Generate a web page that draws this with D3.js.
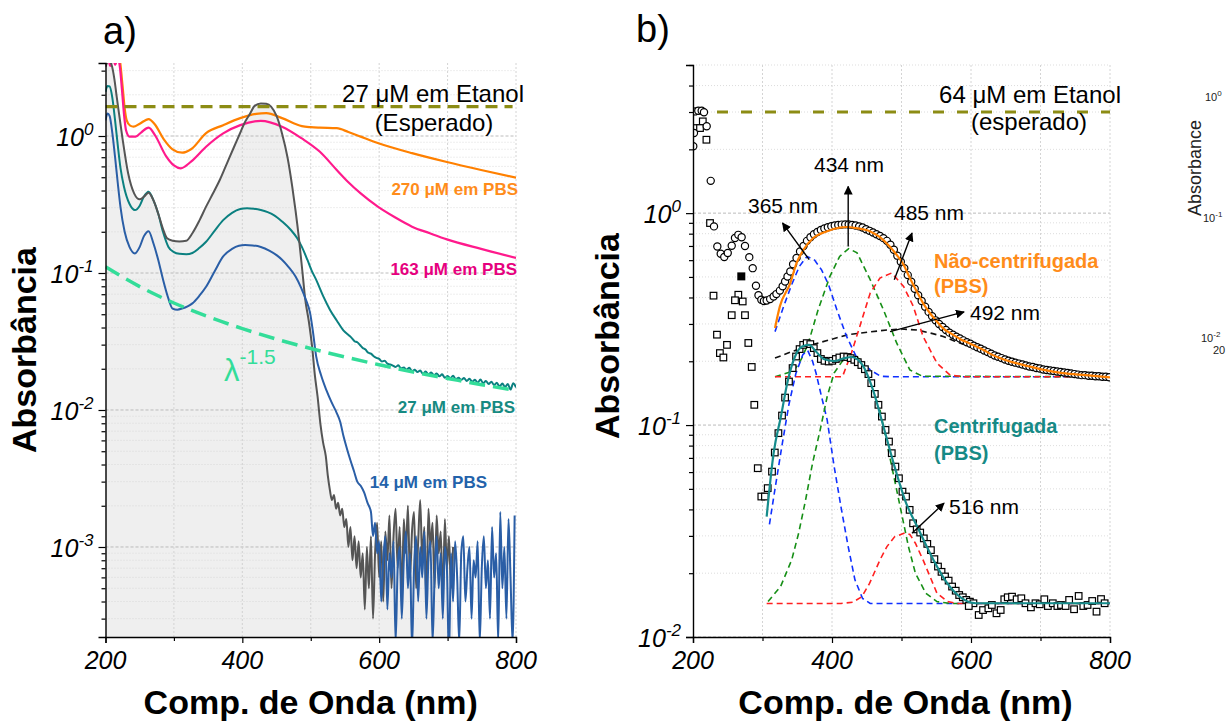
<!DOCTYPE html>
<html><head><meta charset="utf-8">
<script src="https://cdn.jsdelivr.net/npm/d3@7"></script>
<style>body{margin:0;background:#fff}svg{display:block}text{font-family:"Liberation Sans",Arial,Helvetica,sans-serif}</style>
</head><body><svg id="c" width="1228" height="724"></svg>
<script>
// ---------------- DATA (nm, absorbance) ----------------
// Panel a
const aOrange = [[200,6],[212,5],[218,4.2],[221,3.6],[225,2.3],[228,1.6],[231,1.3],[236,1.19],[241,1.17],[250,1.23],[263,1.33],[272,1.22],[285,0.95],[298,0.80],[312,0.755],[325,0.80],[347,1.05],[372,1.20],[397,1.35],[420,1.45],[435,1.47],[458,1.35],[487,1.18],[500,1.16],[513,1.15],[538,1.14],[555,1.07],[573,0.99],[598,0.89],[648,0.75],[699,0.646],[749,0.565],[800,0.496]];
const aPink = [[200,3.3],[204,3.6],[207,3.25],[211,3.8],[214,3.3],[218,3.7],[221,3.2],[224,2.2],[227,1.45],[230,1.1],[235,0.99],[244,0.99],[252,1.06],[263,1.15],[273,1.0],[288,0.72],[300,0.61],[310,0.581],[325,0.65],[347,0.835],[372,1.045],[397,1.20],[427,1.29],[458,1.17],[487,0.96],[513,0.77],[538,0.565],[555,0.46],[573,0.381],[598,0.305],[623,0.255],[648,0.218],[674,0.195],[699,0.176],[749,0.150],[800,0.129]];
const aTealMain = [[200,2.1],[203,2.32],[206,2.3],[210,1.9],[214,1.3],[218,0.85],[222,0.58],[227,0.426],[235,0.32],[243,0.288],[250,0.31],[256,0.36],[263,0.392],[270,0.34],[277,0.272],[284,0.2],[292,0.155],[300,0.142],[308,0.138],[318,0.137],[327,0.14],[337,0.152],[347,0.169],[360,0.205],[372,0.243],[385,0.275],[397,0.293],[407,0.297],[417,0.294],[427,0.288],[437,0.278],[446,0.265],[458,0.238],[471,0.206],[480,0.18],[487,0.155],[495,0.125],[501,0.105],[508,0.089],[518,0.068],[528,0.054],[538,0.045],[548,0.038],[556,0.035]];
const aTealTail = [0.0335,0.0318,0.0312,0.0298,0.0284,0.0276,0.0262,0.0258,0.0247,0.0240,0.0236,0.0226,0.0229,0.0218,0.0215,0.0211,0.0206,0.0212,0.0201,0.0204,0.0197,0.0203,0.0192,0.0197,0.0189,0.0194,0.0184,0.0191,0.0182,0.0188,0.0179,0.0185,0.0176,0.0182,0.0172,0.0177,0.0170,0.0178,0.0168,0.0172,0.0166,0.0171,0.0163,0.0169,0.0161,0.0166,0.0158,0.0167,0.0157,0.0163,0.0155,0.0161,0.0152,0.0158,0.0148,0.0156,0.0147,0.0155,0.0141,0.0157,0.0146]; // 560..800 step 4
const aBlueMain = [[200,1.3],[203,1.46],[206,1.4],[210,1.05],[214,0.7],[218,0.45],[222,0.3],[228,0.2],[235,0.155],[243,0.139],[250,0.155],[256,0.185],[263,0.202],[270,0.165],[277,0.125],[284,0.09],[292,0.065],[298,0.055],[305,0.054],[312,0.055],[320,0.057],[327,0.060],[337,0.068],[347,0.0793],[360,0.104],[372,0.132],[385,0.15],[395,0.158],[404,0.160],[415,0.159],[427,0.155],[440,0.145],[450,0.135],[458,0.125],[468,0.11],[478,0.094],[486,0.078],[493,0.0636],[499,0.0512],[503,0.038],[508,0.0245],[515,0.018],[523,0.0139],[530,0.0115],[538,0.0095],[543,0.0082],[548,0.0064],[553,0.0052],[558,0.0043],[563,0.0036],[568,0.003],[573,0.0028],[578,0.0025],[583,0.0021],[588,0.0018]];
const aBlueTail = [0.0012,0.0015,0.0009,0.0011,0.0004,0.0008,0.0012,0.00035,0.0009,0.0006,0.0011,0.0002,0.0007,0.0010,0.0003,0.0008,0.0013,0.0005,0.0009,0.00018,0.0007,0.0012,0.0004,0.0010,0.0006,0.0013,0.0003,0.0008,0.0011,0.0002,0.0006,0.0012,0.0005,0.0009,0.0003,0.0010,0.0007,0.00015,0.0009,0.0004,0.0011,0.0006,0.0002,0.0009,0.0012,0.0004,0.0007,0.0010,0.0003,0.0008,0.0006,0.0011,0.0002,0.0007,0.0012,0.0005,0.0008,0.0003,0.0014,0.0006,0.0009,0.0002,0.0018,0.0005,0.0010,0.0003,0.0016,0.0006,0.0002,0.0017]; // 591..798 step 3
const aGreyMain = [[200,3.2],[203,3.45],[206,3.5],[209,3.3],[213,2.6],[216,2.0],[219,1.55],[225,0.95],[233,0.537],[242,0.38],[250,0.345],[256,0.36],[263,0.385],[270,0.34],[277,0.272],[284,0.21],[290,0.179],[298,0.172],[308,0.170],[318,0.172],[327,0.195],[337,0.24],[347,0.305],[357,0.38],[367,0.477],[378,0.64],[388,0.835],[396,1.03],[403,1.24],[411,1.45],[418,1.66],[427,1.73],[435,1.72],[442,1.64],[450,1.4],[458,1.045],[466,0.7],[473,0.426],[478,0.28],[483,0.174],[488,0.10],[492,0.064],[497,0.045],[502,0.029],[506,0.018],[510,0.0125],[514,0.008],[518,0.0058],[522,0.0046]];
const aGreyTail = [0.0033,0.0026,0.0022,0.0024,0.0019,0.0021,0.0017,0.0019,0.0014,0.0016,0.0010,0.0014,0.0008,0.0012,0.0007,0.0011,0.0006,0.0009,0.00035,0.0010,0.0005,0.0012,0.0003,0.0009,0.0015,0.0006,0.0011,0.0004,0.0013,0.0008,0.0017,0.0005,0.0012,0.0019,0.0007,0.0014,0.0004,0.0016,0.0009,0.0020,0.0006,0.0013,0.0018,0.0005,0.0011,0.0022,0.0008,0.0014,0.0004,0.0019,0.0010,0.0015,0.0005,0.0017,0.0009,0.0013,0.0004,0.0016,0.0007,0.0012,0.0005,0.0010]; // 525..708 step 3
const aLambda = [[200,0.111],[250,0.0795],[300,0.0604],[350,0.048],[400,0.0393],[450,0.0329],[500,0.0281],[550,0.0244],[600,0.0214],[650,0.0189],[700,0.0170],[750,0.0153],[800,0.0139]];
const aEthanolExpected = [[200,1.64],[795,1.64]];

// Panel b
const bEthanolExpected = [[200,3.0],[800,3.0]];
const bCircles = [[200.4,2.07],[201.4,2.39],[202.9,3.02],[207.6,3.04],[212.5,3.04],[215.8,2.99],[219.7,2.57],[225.5,1.42],[230.2,0.866],[235,0.696],[239.9,0.643],[245,0.621],[250,0.648],[255.7,0.702],[260.4,0.763],[265.2,0.79],[270,0.77],[274.8,0.70],[281,0.62],[285.9,0.55],[290.6,0.454],[294.2,0.41],[298.3,0.39],[302,0.385],[306,0.387],[311,0.393],[316,0.404],[320,0.415],[325,0.431],[329,0.452],[332.5,0.476],[336,0.502],[340,0.53],[344,0.574],[349,0.615],[354,0.66],[359,0.70],[364,0.74],[369,0.77],[374,0.795],[379,0.815],[384,0.832],[389,0.846],[394,0.858],[399,0.867],[404,0.874],[409,0.879],[414,0.883],[419,0.885],[424,0.884],[429,0.88],[434,0.874],[439,0.866],[444,0.855],[449,0.84],[454,0.825],[459,0.81],[464,0.795],[469,0.78],[474,0.762],[479,0.74],[484,0.71],[489,0.672],[494,0.63],[499,0.59],[504,0.55],[509,0.51],[514,0.475],[519,0.44],[524,0.41],[529,0.385],[534,0.362],[539,0.342],[544,0.326],[549,0.312],[554,0.3],[559,0.29],[564,0.281],[569,0.273],[574,0.267],[579,0.261],[584,0.256],[589,0.251],[594,0.246],[599,0.242],[604,0.237],[609,0.233],[614,0.229],[619,0.225],[624,0.221],[629,0.217],[634,0.213],[639,0.210],[644,0.207],[649,0.204],[654,0.201],[659,0.199],[664,0.197],[669,0.195],[674,0.193],[679,0.191],[684,0.189],[689,0.188],[694,0.186],[699,0.185],[704,0.183],[709,0.182],[714,0.181],[719,0.180],[724,0.179],[729,0.178],[734,0.177],[739,0.176],[744,0.175],[749,0.174],[754,0.173],[759,0.172],[764,0.172],[769,0.171],[774,0.171],[779,0.170],[784,0.170],[789,0.169],[794,0.169],[799,0.168]];
const bSquares = [[214.1,2.71],[203.9,2.52],[210.1,2.52],[219.3,2.22],[224.5,0.898],[229.5,0.408],[234.5,0.267],[255.7,0.33],[274.8,0.33],[271.5,0.383],[265.2,0.412],[260.4,0.388],[248.9,0.239],[279.6,0.244],[238.7,0.2186],[243.7,0.2084],[284.5,0.188],[288.2,0.1246],[293.2,0.0626],[298.3,0.046],[303.5,0.046],[307.5,0.0504],[313.7,0.0603],[317.7,0.0742],[322.9,0.0916],[328.1,0.1109],[332.5,0.1348],[338.1,0.1605],[343.3,0.1857],[348.3,0.2106],[353.4,0.2283],[358.6,0.239],[363.6,0.2436],[368.8,0.241],[373.8,0.2307],[379,0.2186],[384,0.205],[389.2,0.201],[395.3,0.1995],[400.4,0.201],[405.5,0.205],[410.6,0.2084],[416.7,0.2106],[421.9,0.2095],[426.9,0.207],[432.1,0.2032],[437.1,0.198],[442.2,0.192],[447.3,0.1835],[452.4,0.174],[456.5,0.1577],[461.6,0.1403],[466.8,0.1246],[471.8,0.1097],[477,0.0949],[482,0.0836],[486,0.0737],[491.2,0.0637],[496.3,0.0561],[501.4,0.0485],[506.5,0.046],[511.7,0.0398],[516.7,0.0344],[521.9,0.0322],[526.9,0.0311],[532.1,0.0292],[537.1,0.0275],[542.3,0.0257],[547.3,0.0233],[552.5,0.0215],[557.6,0.0203],[562.6,0.0193],[567.8,0.01845],[572.8,0.0173],[578,0.01654],[583,0.01578],[588.2,0.0154],[593.2,0.01496],[598.4,0.01468],[603.5,0.01443],[596.8,0.0140],[611.1,0.0127],[617.3,0.0134],[625,0.01366],[630,0.01416],[636.7,0.01294],[642.7,0.01341],[647.9,0.01507],[652.9,0.0154],[659,0.0155],[665.7,0.01507],[672.4,0.01523],[678.4,0.01443],[686.2,0.0138],[692.8,0.01443],[698.9,0.01427],[705.5,0.01507],[710.6,0.0140],[717.7,0.01443],[724.3,0.0140],[729.5,0.01416],[736.1,0.0140],[741.2,0.01496],[748.3,0.01352],[754.9,0.01562],[761.6,0.0140],[767.7,0.01416],[774.4,0.01479],[780.6,0.01317],[787.1,0.0151],[792.3,0.01443]];
const bFilledSquare = [[269.5,0.503]];
const bFitOrange = [[318,0.287],[325,0.363],[340,0.468],[349,0.581],[359,0.672],[373,0.763],[392,0.82],[411,0.855],[421,0.86],[435,0.85],[455,0.82],[469,0.77],[483,0.696],[493,0.636],[503,0.571],[512,0.494],[522,0.427],[531,0.376],[541,0.337],[551,0.308],[560,0.286],[570,0.272],[584,0.255],[599,0.242],[618,0.226],[630,0.215],[655,0.200],[681,0.190],[705,0.182],[732,0.176],[765,0.172],[800,0.168]];
const bFitTeal = [[306,0.037],[316,0.0737],[326.5,0.1097],[336.7,0.1634],[346.8,0.2106],[357,0.2349],[367,0.239],[377,0.2223],[388,0.205],[403,0.2005],[418,0.207],[428,0.2095],[444,0.192],[459,0.1466],[474,0.0984],[490,0.0637],[505,0.0443],[525,0.032],[546,0.0231],[566,0.0179],[587,0.0152],[607,0.01443],[800,0.01443]];
const bUpBlue = [[318,0.276],[330,0.36],[342,0.46],[353,0.56],[364,0.625],[375,0.60],[385,0.54],[395,0.46],[407,0.35],[421,0.262],[435,0.21],[455,0.182],[470,0.170],[485,0.169],[800,0.169]];
const bUpGreen = [[318,0.169],[345,0.18],[356,0.205],[366,0.244],[380,0.35],[397,0.503],[411,0.625],[424,0.68],[436,0.65],[455,0.485],[474,0.35],[493,0.244],[512,0.182],[530,0.170],[800,0.169]];
const bUpRed = [[318,0.169],[415,0.169],[428,0.219],[440,0.292],[455,0.42],[469,0.494],[486,0.522],[503,0.451],[517,0.363],[531,0.262],[551,0.196],[570,0.172],[590,0.169],[800,0.169]];
const bUpBlack = [[318,0.207],[342,0.222],[372,0.24],[397,0.2525],[423,0.267],[454,0.275],[479,0.281],[500,0.284],[522,0.281],[545,0.27],[560,0.262],[575,0.25],[590,0.24]];
const bLoBlue = [[310,0.034],[318,0.05],[328,0.08],[338,0.125],[348,0.175],[358,0.215],[365,0.225],[372,0.20],[377,0.176],[385,0.136],[393,0.106],[403,0.064],[413,0.041],[423,0.027],[433,0.0186],[444,0.0152],[455,0.0144],[800,0.0144]];
const bLoGreen = [[308,0.0147],[326,0.0173],[342,0.0231],[352,0.0309],[362,0.0443],[372,0.0661],[383,0.0949],[393,0.136],[403,0.176],[416,0.203],[428,0.215],[440,0.205],[454,0.1634],[469,0.118],[479,0.0822],[490,0.0551],[500,0.0384],[510,0.0267],[520,0.020],[535,0.0161],[551,0.0147],[570,0.0144],[800,0.0144]];
const bLoRed = [[306,0.0144],[413,0.0144],[430,0.0146],[443,0.0155],[454,0.0179],[469,0.0231],[479,0.0267],[490,0.0297],[505,0.031],[512,0.0305],[520,0.0277],[531,0.0231],[541,0.0193],[551,0.0161],[566,0.0147],[580,0.0144],[800,0.0144]];
// arrows: [fromNm, fromAbs, toNm, toAbs, label]
const bArrows = [[367.2,0.603,328.9,0.898,"365 nm"],[423.3,0.696,423.3,1.337,"434 nm"],[489.6,0.485,515.1,0.805,"485 nm"],[483.5,0.276,590,0.342,"492 nm"],[515.1,0.0309,561.2,0.0428,"516 nm"]];

// ---------------- BUILD ----------------
const tailSeries = (start, step, vals) => vals.map((v,i)=>[start+i*step, v]);
const aTeal = aTealMain.concat(tailSeries(560,4,aTealTail));
const aBlue = aBlueMain.concat(tailSeries(591,3,aBlueTail));
const aGrey = aGreyMain.concat(tailSeries(525,3,aGreyTail));

const svg = d3.select('#c');

function minorTicks(lo, hi){
  const out=[];
  for(let d=-5; d<=1; d++) for(let m=2;m<=9;m++){const v=m*Math.pow(10,d); if(v>=lo&&v<=hi) out.push(v);}
  return out;
}
function decades(lo,hi){const out=[];for(let d=-5;d<=1;d++){const v=Math.pow(10,d); if(v>=lo*0.999&&v<=hi) out.push(v);}return out;}

function panel(opts){
  const {x, y, id} = opts;
  const g = svg.append('g');
  const [x0,x1] = x.range(); const [y0,y1] = y.range();
  svg.append('clipPath').attr('id',id).append('rect').attr('x',x0).attr('y',y1).attr('width',x1-x0).attr('height',y0-y1);
  const layers = {
    back: g.append('g').attr('clip-path',`url(#${id})`),
    grid: g.append('g'),
    data: g.append('g').attr('clip-path',`url(#${id})`),
    axes: g.append('g'),
    top: g.append('g')
  };
  const dom = y.domain();
  const minors = minorTicks(dom[0],dom[1]);
  const majors = decades(dom[0],dom[1]);
  layers.grid.selectAll('.gm').data(minors).join('line')
    .attr('x1',x0).attr('x2',x1).attr('y1',d=>y(d)).attr('y2',d=>y(d))
    .attr('stroke','#d4d4d4').attr('stroke-width',0.8).attr('stroke-dasharray','1,2');
  layers.grid.selectAll('.gM').data(majors).join('line')
    .attr('x1',x0).attr('x2',x1).attr('y1',d=>y(d)).attr('y2',d=>y(d))
    .attr('stroke','#b4b4b4').attr('stroke-width',0.9).attr('stroke-dasharray','3,2');
  layers.grid.selectAll('.gv').data([300,400,500,600,700,800]).join('line')
    .attr('x1',d=>x(d)).attr('x2',d=>x(d)).attr('y1',y1).attr('y2',y0)
    .attr('stroke','#cfcfcf').attr('stroke-width',0.9).attr('stroke-dasharray','2,2');
  const ax = layers.axes;
  ax.append('g').attr('transform',`translate(${x0},0)`)
    .call(d3.axisLeft(y).tickValues(majors).tickSize(7).tickFormat(''));
  ax.append('g').attr('transform',`translate(${x0},0)`)
    .call(d3.axisLeft(y).tickValues(minors).tickSize(4).tickFormat('')).select('.domain').remove();
  ax.append('g').attr('transform',`translate(0,${y0})`)
    .call(d3.axisBottom(x).tickValues([200,400,600,800]).tickSize(6).tickFormat(''));
  ax.append('g').attr('transform',`translate(0,${y0})`)
    .call(d3.axisBottom(x).tickValues([300,500,700]).tickSize(4).tickFormat('')).select('.domain').remove();
  ax.selectAll('.domain').attr('stroke','#000').attr('stroke-width',1.4);
  ax.selectAll('.tick line').attr('stroke','#000').attr('stroke-width',1.2);
  ax.selectAll('.xl').data([200,400,600,800]).join('text')
    .attr('x',d=>x(d)).attr('y',669).attr('text-anchor','middle')
    .style('font-style','italic').style('font-size','25px').text(d=>d);
  majors.forEach(v=>{
    const e = Math.round(Math.log10(v));
    const t = ax.append('text').attr('x',x0-12).attr('y',y(v)+10).attr('text-anchor','end')
      .style('font-style','italic').style('font-size','25px');
    t.append('tspan').text('10');
    t.append('tspan').attr('dy',-11).style('font-size','17px').text(e===0?'0':String(e));
  });
  ax.append('text').attr('x',(x0+x1)/2 + (opts.xtOff||0)).attr('y',714).attr('text-anchor','middle')
    .style('font-weight','bold').style('font-size','34px').text('Comp. de Onda (nm)');
  ax.append('text').attr('transform',`translate(${opts.ytX},${opts.ytY}) rotate(-90)`).attr('text-anchor','middle')
    .style('font-weight','bold').style('font-size','34px').text('Absorbância');
  return layers;
}

// ---------- Panel a ----------
const xA = d3.scaleLinear().domain([200,800]).range([105.5,516]);
const yA = d3.scaleLog().domain([2.203e-4, 3.411]).range([637,63]);
const LA = panel({x:xA,y:yA,id:'clipA',ytX:36,ytY:350});
const lineA = d3.line().x(d=>xA(d[0])).y(d=>yA(d[1])).curve(d3.curveMonotoneX);
LA.back.append('path').datum(aGrey)
  .attr('d', d3.area().x(d=>xA(d[0])).y0(637).y1(d=>Math.min(yA(d[1]),637)).curve(d3.curveMonotoneX))
  .attr('fill','#efefef');
const drawA = (data,color,w)=>LA.data.append('path').datum(data).attr('d',lineA).attr('fill','none').attr('stroke',color).attr('stroke-width',w).attr('stroke-linejoin','round');
drawA(aOrange,'#ff8000',2.2);
drawA(aPink,'#ff1a8c',2.2);
drawA(aTeal,'#0b8080',2);
drawA(aGrey,'#555555',2);
drawA(aBlue,'#2a5ea6',2);
LA.data.append('path').datum(aLambda).attr('d',lineA).attr('fill','none').attr('stroke','#33dd99').attr('stroke-width',3.5).attr('stroke-dasharray','16,8');
LA.data.append('path').datum(aEthanolExpected).attr('d',d3.line().x(d=>xA(d[0])).y(d=>yA(d[1]))).attr('fill','none').attr('stroke','#8c8c14').attr('stroke-width',3.2).attr('stroke-dasharray','12,7');

const T = LA.top;
T.append('text').attr('x',103).attr('y',44).style('font-size','38px').text('a)');
T.append('text').attr('x',524).attr('y',102).attr('text-anchor','end').style('font-size','24px').text('27 μM em Etanol');
T.append('text').attr('x',434).attr('y',131).attr('text-anchor','middle').style('font-size','24px').text('(Esperado)');
const lblA = (t,x,y,c)=>T.append('text').attr('x',x).attr('y',y).attr('text-anchor','end').style('font-weight','bold').style('font-size','17px').attr('fill',c).text(t);
lblA('270 μM em PBS',518,195,'#ff8c1a');
lblA('163 μM em PBS',517,275,'#e6007e');
lblA('27 μM em PBS',515,413,'#168a82');
lblA('14 μM em PBS',487,488,'#2362aa');
const lam = T.append('text').attr('x',224).attr('y',381).attr('fill','#33dd99').style('font-size','31px');
lam.append('tspan').text('λ');
lam.append('tspan').attr('dy',-17).style('font-size','21px').text('-1.5');

// ---------- Panel b ----------
const xB = d3.scaleLinear().domain([200,800]).range([693,1110]);
const yB = d3.scaleLog().domain([0.01, 5]).range([637,65]);
const LB = panel({x:xB,y:yB,id:'clipB',ytX:619,ytY:336,xtOff:4});
const lineB = d3.line().x(d=>xB(d[0])).y(d=>yB(d[1]));
const lineBs = d3.line().x(d=>xB(d[0])).y(d=>yB(d[1])).curve(d3.curveMonotoneX);
const comp = (data,color)=>LB.data.append('path').datum(data).attr('d',lineB).attr('fill','none').attr('stroke',color).attr('stroke-width',1.6).attr('stroke-dasharray','6,4');
comp(bUpBlack,'#111'); comp(bUpBlue,'#1030ff'); comp(bUpGreen,'#168f16'); comp(bUpRed,'#ff2020');
comp(bLoBlue,'#1030ff'); comp(bLoGreen,'#168f16'); comp(bLoRed,'#ff2020');
LB.data.append('path').datum(bEthanolExpected).attr('d',lineB).attr('fill','none').attr('stroke','#8c8c14').attr('stroke-width',3.2).attr('stroke-dasharray','11,13');
LB.data.selectAll('.sq').data(bSquares).join('rect')
  .attr('x',d=>xB(d[0])-3.3).attr('y',d=>yB(d[1])-3.3).attr('width',6.6).attr('height',6.6)
  .attr('fill','#fff').attr('stroke','#000').attr('stroke-width',1.2);
LB.data.selectAll('.ci').data(bCircles).join('circle')
  .attr('cx',d=>xB(d[0])).attr('cy',d=>yB(d[1])).attr('r',3.6)
  .attr('fill','#fff').attr('stroke','#000').attr('stroke-width',1.2);
LB.data.selectAll('.fs').data(bFilledSquare).join('rect')
  .attr('x',d=>xB(d[0])-4).attr('y',d=>yB(d[1])-4).attr('width',8).attr('height',8).attr('fill','#000');
LB.data.append('path').datum(bFitOrange).attr('d',lineBs).attr('fill','none').attr('stroke','#ff8000').attr('stroke-width',2.2);
LB.data.append('path').datum(bFitTeal).attr('d',lineBs).attr('fill','none').attr('stroke','#168c8c').attr('stroke-width',2.2);

const defs = svg.append('defs');
defs.append('marker').attr('id','ah').attr('viewBox','0 0 10 10').attr('refX',9).attr('refY',5)
  .attr('markerWidth',9).attr('markerHeight',9).attr('markerUnits','userSpaceOnUse').attr('orient','auto')
  .append('path').attr('d','M0,0 L10,5 L0,10 z').attr('fill','#000');
const TB = LB.top;
TB.selectAll('.ar').data(bArrows).join('line')
  .attr('x1',d=>xB(d[0])).attr('y1',d=>yB(d[1])).attr('x2',d=>xB(d[2])).attr('y2',d=>yB(d[3]))
  .attr('stroke','#000').attr('stroke-width',1.4).attr('marker-end','url(#ah)');
const nmLbl = [[783,213,'middle'],[849,172,'middle'],[929,220,'middle'],[970,320,'start'],[949,514,'start']];
bArrows.forEach((a,i)=>{
  TB.append('text').attr('x',nmLbl[i][0]).attr('y',nmLbl[i][1]).attr('text-anchor',nmLbl[i][2]).style('font-size','21px').text(a[4]);
});
TB.append('text').attr('x',636).attr('y',42).style('font-size','38px').text('b)');
TB.append('text').attr('x',1121).attr('y',103).attr('text-anchor','end').style('font-size','24px').text('64 μM em Etanol');
TB.append('text').attr('x',1029).attr('y',130).attr('text-anchor','middle').style('font-size','24px').text('(esperado)');
const lblB=(t,x,y,c)=>TB.append('text').attr('x',x).attr('y',y).style('font-weight','bold').style('font-size','20px').attr('fill',c).text(t);
lblB('Não-centrifugada',934,268,'#ff8c1a'); lblB('(PBS)',934,293,'#ff8c1a');
lblB('Centrifugada',934,433,'#168a86'); lblB('(PBS)',934,460,'#168a86');

// ---------- clipped inset at right edge ----------
const R = svg.append('g').attr('fill','#222');
const supT=(x,y,e)=>{const t=R.append('text').attr('x',x).attr('y',y).style('font-size','11px');t.append('tspan').text('10');t.append('tspan').attr('dy',-5).style('font-size','8px').text(e);};
supT(1205,101,'0'); supT(1203,222,'-1'); supT(1201,342,'-2');
R.append('text').attr('x',1213).attr('y',354).style('font-size','11px').text('20');
R.append('text').attr('transform','translate(1201,168) rotate(-90)').attr('text-anchor','middle').style('font-size','18px').text('Absorbance');
</script></body></html>
